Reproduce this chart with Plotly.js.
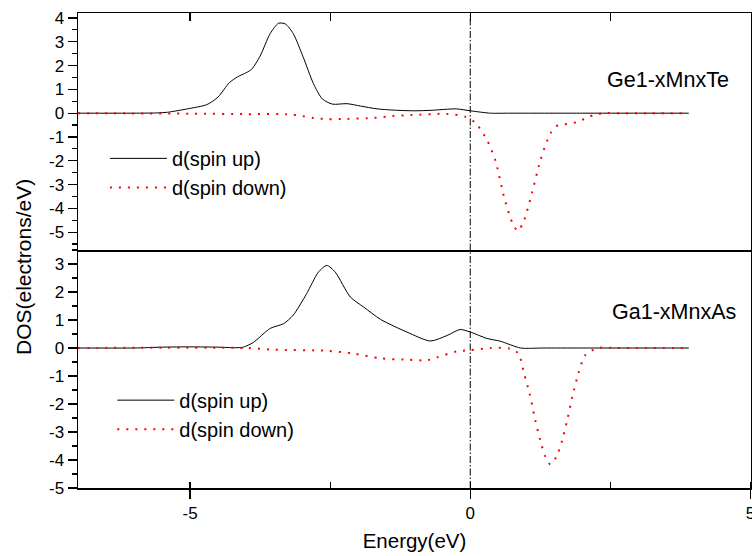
<!DOCTYPE html>
<html>
<head>
<meta charset="utf-8">
<script src="https://cdn.plot.ly/plotly-3.0.1.min.js"></script>
<style>html,body{margin:0;padding:0;background:#fff}#chart{width:752px;height:556px}</style>
</head>
<body>
<div id="chart"></div>
<script>
// ---- Data: Ge1-xMnxTe (top panel) ----
const geUpE   = [-7.0,-6.0,-5.6,-5.4,-5.05,-4.7,-4.5,-4.3,-4.15,-4.0,-3.9,-3.75,-3.57,-3.42,-3.3,-3.16,-2.98,-2.8,-2.64,-2.46,-2.2,-1.96,-1.66,-1.3,-1.0,-0.7,-0.25,0.0,0.36,0.7,1.0,2.0,3.0,3.9];
const geUpDOS = [0,0,0.01,0.04,0.18,0.36,0.68,1.28,1.53,1.7,1.85,2.4,3.35,3.78,3.75,3.35,2.35,1.25,0.6,0.38,0.4,0.3,0.18,0.12,0.1,0.12,0.18,0.1,0.0,0,0,0,0,0];
const geDnE   = [-7.0,-5.0,-4.0,-3.2,-3.0,-2.8,-2.55,-2.2,-1.73,-1.4,-1.07,-0.42,-0.09,0.09,0.3,0.45,0.6,0.75,0.85,0.95,1.1,1.25,1.43,1.57,1.75,1.91,2.09,2.23,2.4,2.7,3.2,3.9];
const geDnDOS = [0,-0.02,-0.04,-0.05,-0.12,-0.2,-0.25,-0.24,-0.2,-0.12,-0.08,-0.03,-0.15,-0.4,-1.13,-2.0,-3.5,-4.6,-4.95,-4.57,-3.37,-2.0,-0.85,-0.5,-0.45,-0.37,-0.18,-0.05,0,0,0,0];

// ---- Data: Ga1-xMnxAs (bottom panel) ----
const gaUpE   = [-7.0,-6.0,-5.5,-5.0,-4.5,-4.2,-4.05,-3.87,-3.57,-3.33,-3.16,-2.92,-2.71,-2.56,-2.41,-2.14,-1.9,-1.6,-1.13,-0.71,-0.41,-0.18,0.0,0.3,0.54,0.9,1.3,2.0,3.0,3.9];
const gaUpDOS = [0,0,0.03,0.04,0.03,0.01,0.03,0.2,0.7,0.87,1.17,1.94,2.71,2.95,2.71,1.82,1.46,1.02,0.57,0.25,0.45,0.66,0.57,0.34,0.24,0.0,0,0,0,0];
const gaDnE   = [-7.0,-4.0,-3.5,-2.56,-2.08,-1.6,-1.1,-0.77,-0.6,-0.24,0.0,0.36,0.71,0.86,0.96,1.06,1.16,1.25,1.34,1.43,1.54,1.64,1.73,1.82,1.93,2.05,2.27,2.6,3.1,3.9];
const gaDnDOS = [0,0,-0.06,-0.1,-0.2,-0.37,-0.42,-0.44,-0.34,-0.12,-0.08,0,-0.02,-0.2,-0.91,-1.63,-2.58,-3.3,-3.88,-4.16,-3.88,-3.3,-2.58,-1.75,-0.91,-0.26,0,0,0,0];

// ---- Tick labels ----
const xTickVals = [-5, 0, 5];
const xTickText = ['-5', '0', '5'];
const yTopTickVals = [-5,-4,-3,-2,-1,0,1,2,3,4];
const yTopTickText = ['-5','-4','-3','-2','-1','0','1','2','3','4'];
const yBotTickVals = [-5,-4,-3,-2,-1,0,1,2,3];
const yBotTickText = ['-5','-4','-3','-2','-1','0','1','2','3'];

const seriesNames = ['d(spin up)', 'd(spin down)'];
const panelLabels = ['Ge1-xMnxTe', 'Ga1-xMnxAs'];

const FONT = 'Liberation Sans, Arial, Helvetica, sans-serif';
const upLine = {color: '#000', width: 1, shape: 'spline', smoothing: 0.7};
const dnLine = {color: '#ff0000', width: 2, dash: '2px,7px', shape: 'spline', smoothing: 0.7};

const traces = [
  {x: geUpE, y: geUpDOS, xaxis: 'x2', yaxis: 'y2', mode: 'lines', name: seriesNames[0], line: upLine, legend: 'legend'},
  {x: geDnE, y: geDnDOS, xaxis: 'x2', yaxis: 'y2', mode: 'lines', name: seriesNames[1], line: dnLine, legend: 'legend'},
  {x: gaUpE, y: gaUpDOS, xaxis: 'x', yaxis: 'y', mode: 'lines', name: seriesNames[0], line: upLine, legend: 'legend2'},
  {x: gaDnE, y: gaDnDOS, xaxis: 'x', yaxis: 'y', mode: 'lines', name: seriesNames[1], line: dnLine, legend: 'legend2'}
];

const split = 238/475;
const xr = [-7, 5.01];
const axisCommon = {showgrid: false, zeroline: false, showline: true, linecolor: '#000', linewidth: 1.5,
  tickcolor: '#000', tickfont: {family: FONT, size: 17, color: '#000'}, ticklabeloverflow: 'allow'};

const layout = {
  width: 752, height: 556,
  margin: {l: 78, r: 1, t: 13, b: 68},
  paper_bgcolor: '#fff', plot_bgcolor: '#fff',
  font: {family: FONT, color: '#000'},
  showlegend: true,
  xaxis: Object.assign({}, axisCommon, {
    domain: [0, 1], range: xr, anchor: 'y', side: 'bottom', mirror: false,
    tickmode: 'array', tickvals: xTickVals, ticktext: xTickText,
    ticks: 'outside', ticklen: 9, tickwidth: 1.2,
    minor: {tickmode: 'linear', tick0: 0, dtick: 2.5, ticks: 'inside', ticklen: 6, tickwidth: 1.2, tickcolor: '#000'},
    title: {text: 'Energy(eV)', font: {family: FONT, size: 20.5, color: '#000'}, standoff: 11}
  }),
  xaxis3: {
    range: xr, overlaying: 'x', anchor: 'y', side: 'top', showgrid: false, zeroline: false, showline: false,
    tickmode: 'linear', tick0: 0, dtick: 2.5, ticks: 'inside', ticklen: 8, tickwidth: 1.2, tickcolor: '#000',
    showticklabels: false
  },
  xaxis2: Object.assign({}, axisCommon, {
    domain: [0, 1], range: xr, anchor: 'y2', side: 'top', mirror: true,
    tickmode: 'linear', tick0: 0, dtick: 2.5, ticks: 'inside', ticklen: 8, tickwidth: 1.2,
    showticklabels: false
  }),
  yaxis: Object.assign({}, axisCommon, {
    domain: [0, split], range: [-5, 3.5], anchor: 'x', mirror: 'ticks',
    tickmode: 'array', tickvals: yBotTickVals, ticktext: yBotTickText,
    ticks: 'outside', ticklen: 9, tickwidth: 1.2,
    minor: {tickmode: 'linear', tick0: 0, dtick: 0.5, ticks: 'outside', ticklen: 5, tickwidth: 1.2, tickcolor: '#000'}
  }),
  yaxis2: Object.assign({}, axisCommon, {
    domain: [split, 1], range: [-5.75, 4.21], anchor: 'x2', mirror: 'ticks',
    tickmode: 'array', tickvals: yTopTickVals, ticktext: yTopTickText,
    ticks: 'outside', ticklen: 9, tickwidth: 1.2,
    minor: {tickmode: 'linear', tick0: 0, dtick: 0.5, ticks: 'outside', ticklen: 5, tickwidth: 1.2, tickcolor: '#000'}
  }),
  legend: {
    x: 0.04, y: 0.735, xanchor: 'left', yanchor: 'top', bgcolor: 'rgba(0,0,0,0)', borderwidth: 0,
    font: {family: FONT, size: 20, color: '#000'}, itemwidth: 57, tracegroupgap: 0
  },
  legend2: {
    x: 0.051, y: 0.226, xanchor: 'left', yanchor: 'top', bgcolor: 'rgba(0,0,0,0)', borderwidth: 0,
    font: {family: FONT, size: 20, color: '#000'}, itemwidth: 57, tracegroupgap: 0
  },
  shapes: [
    {type: 'line', xref: 'x', yref: 'paper', x0: 0, x1: 0, y0: 0, y1: 1,
     line: {color: '#000', width: 1, dash: '7px,2px,1.5px,2px'}}
  ],
  annotations: [
    {text: panelLabels[0], xref: 'paper', yref: 'paper', x: (731-78)/673, y: (488-80)/475,
     xanchor: 'right', yanchor: 'middle', showarrow: false, font: {family: FONT, size: 21.5, color: '#000'}},
    {text: panelLabels[1], xref: 'paper', yref: 'paper', x: (738-78)/673, y: (488-312)/475,
     xanchor: 'right', yanchor: 'middle', showarrow: false, font: {family: FONT, size: 21.5, color: '#000'}},
    {text: 'DOS(electrons/eV)', xref: 'paper', yref: 'paper', x: 0, y: (488-267)/475, xshift: -55,
     xanchor: 'center', yanchor: 'middle', textangle: -90, showarrow: false, font: {family: FONT, size: 21, color: '#000'}}
  ]
};

Plotly.newPlot('chart', traces, layout, {displayModeBar: false, staticPlot: true});
</script>
</body>
</html>
